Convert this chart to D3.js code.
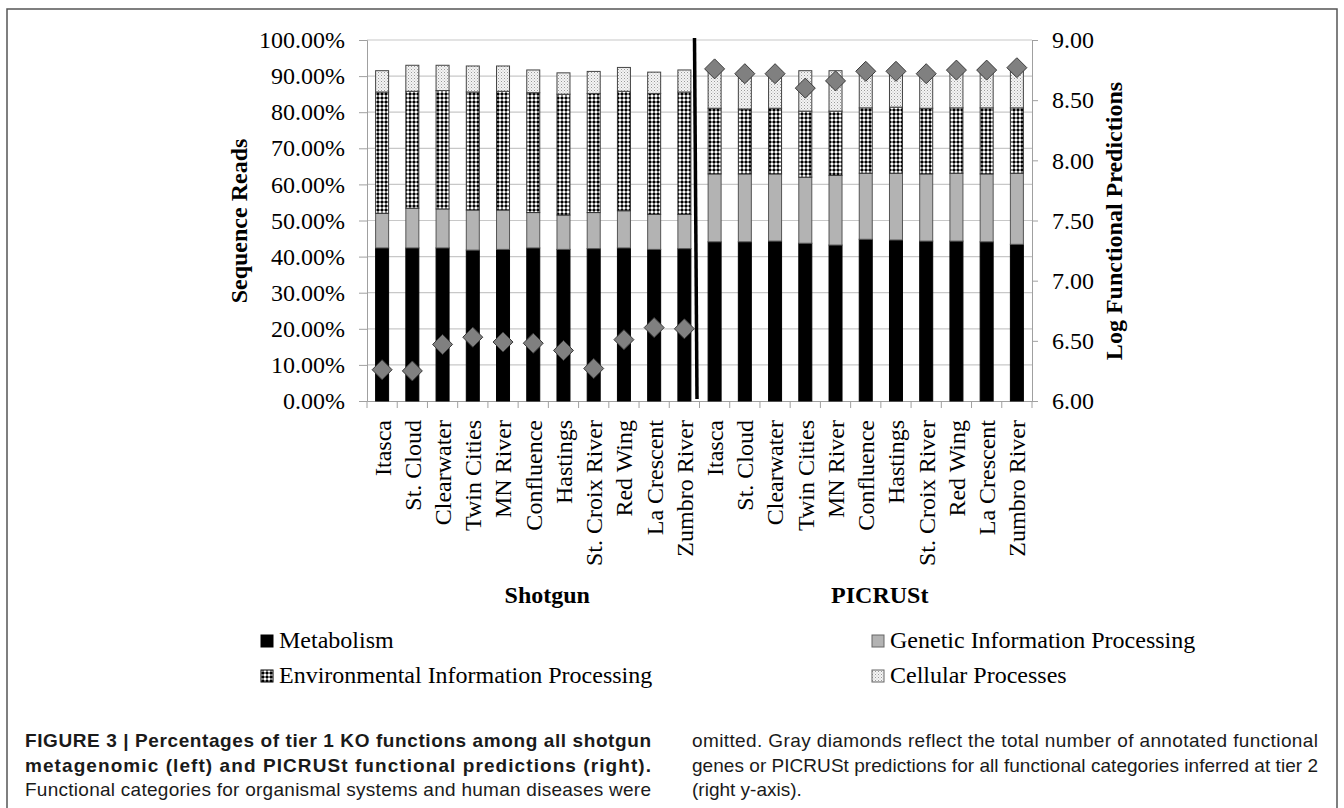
<!DOCTYPE html>
<html lang="en">
<head>
<meta charset="UTF-8">
<title>Tier 1 KO functions</title>
<script src="https://d3js.org/d3.v7.min.js"></script>
<style>
    body { margin: 0; background: #fff; }
    svg { display: block; }
    .serif { font-family: "Liberation Serif", "Times New Roman", serif; fill: #000; }
    .caption { font-family: "Liberation Sans", Arial, sans-serif; font-size: 19px; fill: #1a1a1a; }
</style>
</head>
<body>
<svg width="1344" height="808"></svg>
<script>
// sites, same order for both methods
const sites = ["Itasca", "St. Cloud", "Clearwater", "Twin Cities", "MN River", "Confluence",
               "Hastings", "St. Croix River", "Red Wing", "La Crescent", "Zumbro River"];
const groups = ["Shotgun", "PICRUSt"];
const seriesNames = ["Metabolism", "Genetic Information Processing",
                     "Environmental Information Processing", "Cellular Processes"];

// percentages (left axis)
const shotgunMetabolism    = [42.4, 42.4, 42.4, 41.8, 42.0, 42.4, 42.0, 42.2, 42.4, 42.0, 42.2];
const shotgunGenetic       = [9.6, 11.0, 10.8, 11.1, 10.9, 9.8, 9.5, 10.0, 10.3, 9.7, 9.5];
const shotgunEnvironmental = [33.6, 32.4, 32.8, 32.7, 32.9, 33.2, 33.5, 33.0, 33.1, 33.5, 33.9];
const shotgunCellular      = [5.9, 7.2, 7.0, 7.2, 7.0, 6.3, 5.9, 6.1, 6.6, 5.9, 6.1];

const picrustMetabolism    = [44.1, 44.1, 44.3, 43.7, 43.2, 44.8, 44.6, 44.3, 44.3, 44.1, 43.4];
const picrustGenetic       = [18.8, 18.8, 18.6, 18.3, 19.3, 18.3, 18.5, 18.6, 18.8, 18.8, 19.7];
const picrustEnvironmental = [18.2, 18.0, 18.2, 18.3, 17.8, 18.1, 18.3, 18.2, 18.1, 18.3, 18.1];
const picrustCellular      = [10.3, 10.5, 10.3, 11.2, 11.2, 10.2, 10.0, 10.3, 10.2, 10.2, 10.2];

// log functional predictions (right axis)
const shotgunLog = [6.26, 6.25, 6.47, 6.53, 6.49, 6.48, 6.42, 6.27, 6.51, 6.61, 6.60];
const picrustLog = [8.76, 8.72, 8.72, 8.60, 8.66, 8.74, 8.74, 8.72, 8.75, 8.75, 8.77];

const leftTicks = [0, 10, 20, 30, 40, 50, 60, 70, 80, 90, 100];
const rightTicks = [6.0, 6.5, 7.0, 7.5, 8.0, 8.5, 9.0];

const captionLeft = [
    {text: "FIGURE 3 | Percentages of tier 1 KO functions among all shotgun", bold: true, justify: true},
    {text: "metagenomic (left) and PICRUSt functional predictions (right).", bold: true, justify: true},
    {text: "Functional categories for organismal systems and human diseases were", bold: false, justify: true}
];
const captionRight = [
    {text: "omitted. Gray diamonds reflect the total number of annotated functional", justify: true},
    {text: "genes or PICRUSt predictions for all functional categories inferred at tier 2", justify: true},
    {text: "(right y-axis).", justify: false}
];

// build rows
const rows = [];
sites.forEach((s, i) => rows.push({key: "s" + i, site: s,
    vals: [shotgunMetabolism[i], shotgunGenetic[i], shotgunEnvironmental[i], shotgunCellular[i]],
    log: shotgunLog[i]}));
sites.forEach((s, i) => rows.push({key: "p" + i, site: s,
    vals: [picrustMetabolism[i], picrustGenetic[i], picrustEnvironmental[i], picrustCellular[i]],
    log: picrustLog[i]}));

const svg = d3.select("svg");

// patterns
const defs = svg.append("defs");
const env = defs.append("pattern").attr("id", "envPat")
    .attr("width", 4).attr("height", 4).attr("patternUnits", "userSpaceOnUse");
env.append("rect").attr("width", 4).attr("height", 4).attr("fill", "#fff");
env.append("rect").attr("x", 1).attr("y", 0.5).attr("width", 2).attr("height", 3).attr("fill", "#000");
env.append("rect").attr("x", 0.5).attr("y", 1).attr("width", 3).attr("height", 2).attr("fill", "#000");
const cell = defs.append("pattern").attr("id", "cellPat")
    .attr("width", 3).attr("height", 3).attr("patternUnits", "userSpaceOnUse");
cell.append("rect").attr("width", 3).attr("height", 3).attr("fill", "#f4f4f4");
cell.append("rect").attr("x", 0).attr("y", 0).attr("width", 1).attr("height", 1).attr("fill", "#9a9a9a");
cell.append("rect").attr("x", 1.5).attr("y", 1.5).attr("width", 1).attr("height", 1).attr("fill", "#b8b8b8");

const fills = ["#000", "#b3b3b3", "url(#envPat)", "url(#cellPat)"];
const strokes = ["#000", "#555", "#333", "#444"];

// frame
svg.append("rect").attr("x", 7).attr("y", 9).attr("width", 1330).attr("height", 900)
    .attr("fill", "none").attr("stroke", "#555").attr("stroke-width", 1.5);

// scales
const x = d3.scaleBand().domain(rows.map(d => d.key)).range([367, 1032])
    .paddingInner(0.57).paddingOuter(0.285);
const y = d3.scaleLinear().domain([0, 100]).range([401, 40]);
const y2 = d3.scaleLinear().domain([6, 9]).range([401, 40]);

// gridlines
svg.append("g").selectAll("line").data(leftTicks.slice(1)).join("line")
    .attr("x1", 367).attr("x2", 1032)
    .attr("y1", d => y(d)).attr("y2", d => y(d))
    .attr("stroke", "#c8c8c8").attr("stroke-width", 1.2);

// left axis
const yAxis = svg.append("g").attr("transform", "translate(367,0)")
    .call(d3.axisLeft(y).tickValues(leftTicks).tickSize(8).tickPadding(14)
        .tickFormat(d => d.toFixed(2) + "%"));
yAxis.select(".domain").attr("stroke", "#a0a0a0");
yAxis.selectAll(".tick line").attr("stroke", "#a0a0a0");
yAxis.selectAll("text").attr("class", "serif").style("font-size", "24px");

// right axis
const y2Axis = svg.append("g").attr("transform", "translate(1032,0)")
    .call(d3.axisRight(y2).tickValues(rightTicks).tickSize(6).tickPadding(14)
        .tickFormat(d3.format(".2f")));
y2Axis.select(".domain").attr("stroke", "#a0a0a0");
y2Axis.selectAll(".tick line").attr("stroke", "#a0a0a0");
y2Axis.selectAll("text").attr("class", "serif").style("font-size", "24px");

// bottom axis: labels at band centers, ticks at band boundaries
const xAxis = svg.append("g").attr("transform", "translate(0,401)")
    .call(d3.axisBottom(x).tickSize(0).tickFormat(k => rows.find(r => r.key === k).site));
xAxis.select(".domain").attr("stroke", "#a0a0a0");
xAxis.selectAll("text").attr("class", "serif").style("font-size", "24px")
    .attr("text-anchor", "end").attr("transform", "translate(0,19) rotate(-90)")
    .attr("x", 0).attr("y", 0).attr("dy", "0.35em");
const bounds = d3.range(rows.length + 1).map(i => x.range()[0] + i * x.step());
svg.append("g").selectAll("line").data(bounds).join("line")
    .attr("x1", d => d).attr("x2", d => d).attr("y1", 401).attr("y2", 408)
    .attr("stroke", "#a0a0a0");

// stacked bars
const stackRows = rows.map(r => {
    let acc = 0;
    return r.vals.map((v, j) => { const seg = {key: r.key, j, y0: acc, y1: acc + v}; acc += v; return seg; });
});
svg.append("g").selectAll("rect").data(stackRows.flat()).join("rect")
    .attr("x", d => x(d.key)).attr("width", x.bandwidth())
    .attr("y", d => y(d.y1)).attr("height", d => y(d.y0) - y(d.y1))
    .attr("fill", d => fills[d.j]).attr("stroke", d => strokes[d.j]).attr("stroke-width", 1);

// separator between methods
const sepX = bounds[sites.length];
svg.append("line").attr("x1", sepX - 5).attr("x2", sepX - 2.5)
    .attr("y1", y(100) - 2).attr("y2", y(0) - 2)
    .attr("stroke", "#000").attr("stroke-width", 3.5);

// diamonds (right axis)
svg.append("g").selectAll("path").data(rows).join("path")
    .attr("transform", d => `translate(${x(d.key) + x.bandwidth() / 2},${y2(d.log)})`)
    .attr("d", "M0,-10L10,0L0,10L-10,0Z")
    .attr("fill", "#808080").attr("stroke", "#3a3a3a").attr("stroke-width", 1);

// axis titles
svg.append("text").attr("class", "serif").attr("transform", "translate(247,221) rotate(-90)")
    .attr("text-anchor", "middle").style("font-size", "24px").style("font-weight", "bold")
    .text("Sequence Reads");
svg.append("text").attr("class", "serif").attr("transform", "translate(1122,221) rotate(-90)")
    .attr("text-anchor", "middle").style("font-size", "24px").style("font-weight", "bold")
    .text("Log Functional Predictions");

// group titles
groups.forEach((g, gi) => {
    const i0 = gi * sites.length;
    const cx = (bounds[i0] + bounds[i0 + sites.length]) / 2 + 14;
    svg.append("text").attr("class", "serif").attr("x", cx).attr("y", 603)
        .attr("text-anchor", "middle").style("font-size", "24px").style("font-weight", "bold")
        .text(g);
});

// legend
const legendPos = [[261, 648], [872, 648], [261, 683], [872, 683]];
const legend = svg.append("g").selectAll("g").data(seriesNames).join("g")
    .attr("transform", (d, i) => `translate(${legendPos[i][0]},${legendPos[i][1]})`);
legend.append("rect").attr("x", 0).attr("y", -13).attr("width", 12).attr("height", 12)
    .attr("fill", (d, i) => fills[i]).attr("stroke", (d, i) => i === 1 || i === 3 ? "#666" : "#000");
legend.append("text").attr("class", "serif").attr("x", 18).attr("y", 0)
    .style("font-size", "24px").text(d => d);

// caption
function drawCaption(lines, x0, width) {
    lines.forEach((l, i) => {
        const t = svg.append("text").attr("class", "caption")
            .attr("x", x0).attr("y", 747 + i * 24.5)
            .style("font-weight", l.bold ? "bold" : "normal").text(l.text);
        if (l.justify) t.attr("textLength", width).attr("lengthAdjust", "spacing");
    });
}
drawCaption(captionLeft, 25, 626);
drawCaption(captionRight, 692, 626);
</script>
</body>
</html>
